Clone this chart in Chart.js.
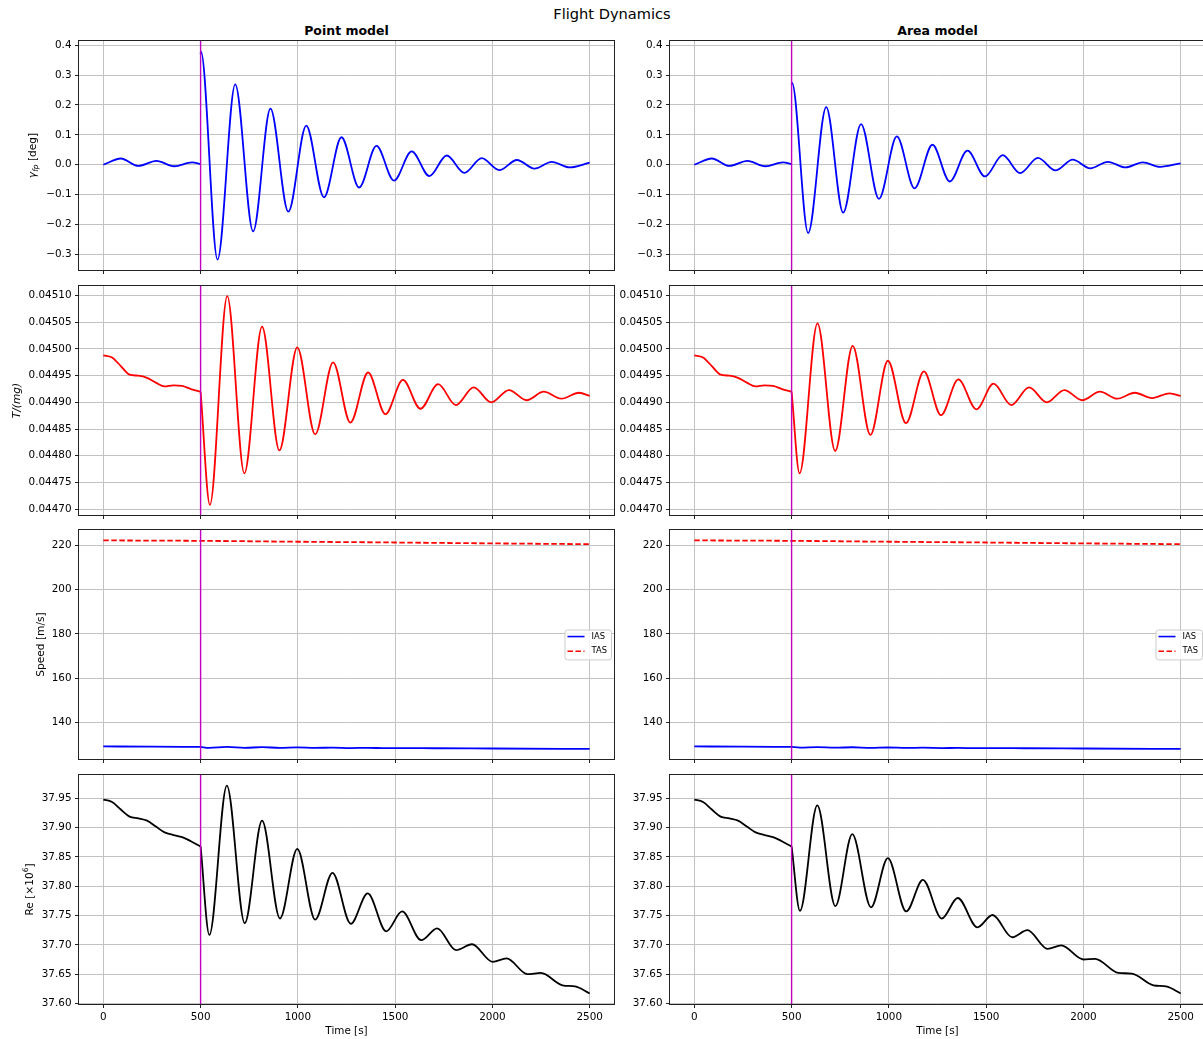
<!DOCTYPE html>
<html>
<head>
<meta charset="utf-8">
<title>Flight Dynamics</title>
<script src="https://cdn.jsdelivr.net/npm/chart.js@4.4.1/dist/chart.umd.min.js"></script>
<style>
  html, body { margin: 0; padding: 0; background: #fff; overflow: hidden; }
  #fig { position: relative; width: 1203px; height: 1039px; overflow: hidden; font-family: 'DejaVu Sans', sans-serif; color: #000; }
  #fig canvas { position: absolute; }
  .suptitle { position: absolute; left: 0; width: 1224px; top: 7px; text-align: center; font-size: 14.6px; line-height: 1; }
  .coltitle { position: absolute; width: 535px; top: 25px; text-align: center; font-size: 12.5px; font-weight: bold; line-height: 1; }
</style>
</head>
<body>
<div id="fig">
  <div class="suptitle">Flight Dynamics</div>
  <div class="coltitle" style="left:79px">Point model</div>
  <div class="coltitle" style="left:670px">Area model</div>
</div>
<script>
// ---- time axis ----
const eventTime = 500;
const timeTicks = [0, 500, 1000, 1500, 2000, 2500];

// ---- flight path angle [deg] ----
const gammaTicks = [-0.3, -0.2, -0.1, 0.0, 0.1, 0.2, 0.3, 0.4];
const gammaTimePre = [0, 90, 180, 273, 365, 456, 500];
const gammaPre = [0, 0.021, -0.004, 0.013, -0.005, 0.008, 0.002];
const gammaTimePoint = [500, 502, 587, 678, 770, 859, 951, 1043, 1134, 1224, 1315, 1404, 1494, 1585, 1676, 1765, 1856, 1945, 2035, 2126, 2216, 2305, 2397, 2500];
const gammaPoint = [0.37, 0.378, -0.317, 0.269, -0.223, 0.188, -0.157, 0.131, -0.109, 0.092, -0.076, 0.063, -0.053, 0.045, -0.038, 0.031, -0.027, 0.022, -0.018, 0.016, -0.013, 0.010, -0.009, 0.007];
const gammaTimeArea = [500, 502, 585, 678, 765, 857, 949, 1041, 1132, 1224, 1313, 1404, 1494, 1585, 1675, 1766, 1856, 1945, 2035, 2126, 2216, 2305, 2394, 2500];
const gammaArea = [0.268, 0.275, -0.228, 0.193, -0.160, 0.136, -0.114, 0.095, -0.079, 0.067, -0.056, 0.047, -0.039, 0.032, -0.028, 0.023, -0.019, 0.017, -0.012, 0.010, -0.009, 0.008, -0.007, 0.005];

// ---- thrust ratio T/(mg) ----
const thrustTicks = [0.04470, 0.04475, 0.04480, 0.04485, 0.04490, 0.04495, 0.04500, 0.04505, 0.04510];
const thrustTimePre = [0, 45, 90, 135, 180, 225, 270, 315, 360, 405, 450, 500];
const thrustPre = [0.044988, 0.044984, 0.044968, 0.044952, 0.044950, 0.044946, 0.044937, 0.044930, 0.044932, 0.044931, 0.044925, 0.044920];
const thrustTimePoint = [500, 548, 637, 725, 816, 905, 997, 1089, 1181, 1270, 1361, 1450, 1540, 1630, 1721, 1812, 1904, 1994, 2085, 2176, 2264, 2355, 2445, 2500];
const thrustPoint = [0.044920, 0.044708, 0.045099, 0.044767, 0.045042, 0.044810, 0.045003, 0.044840, 0.044975, 0.044862, 0.044956, 0.044878, 0.044942, 0.044888, 0.044934, 0.044895, 0.044928, 0.044900, 0.044923, 0.044904, 0.044920, 0.044907, 0.044918, 0.044912];
const thrustTimeArea = [500, 541, 633, 724, 814, 905, 995, 1088, 1180, 1268, 1357, 1450, 1538, 1629, 1721, 1812, 1902, 1994, 2085, 2174, 2264, 2353, 2443, 2500];
const thrustArea = [0.044920, 0.044767, 0.045048, 0.044809, 0.045006, 0.044839, 0.044978, 0.044861, 0.044958, 0.044876, 0.044943, 0.044887, 0.044935, 0.044895, 0.044928, 0.044900, 0.044923, 0.044904, 0.044920, 0.044907, 0.044918, 0.044908, 0.044917, 0.044912];

// ---- airspeeds [m/s] ----
const speedTicks = [140, 160, 180, 200, 220];
const tasTime = [0, 500, 1000, 1500, 2000, 2500];
const tas = [222.3, 222.1, 221.7, 221.35, 220.95, 220.6];
const iasTimePre = [0, 250, 500];
const iasPre = [129.2, 129.05, 128.95];
const iasTimePoint = [500, 545, 635, 727, 816, 908, 997, 1089, 1178, 1272, 1359, 1454, 1536, 1700, 2000, 2500];
const iasPoint = [128.95, 128.55, 128.95, 128.55, 128.85, 128.55, 128.75, 128.5, 128.65, 128.45, 128.55, 128.4, 128.45, 128.35, 128.25, 128.05];
const iasTimeArea = [500, 543, 632, 725, 812, 908, 995, 1089, 1175, 1272, 1354, 1455, 1533, 1700, 2000, 2500];
const iasArea = [128.95, 128.65, 128.9, 128.6, 128.8, 128.55, 128.7, 128.5, 128.6, 128.45, 128.5, 128.4, 128.45, 128.35, 128.25, 128.05];

// ---- Reynolds number [x1e6] ----
const reTicks = [37.60, 37.65, 37.70, 37.75, 37.80, 37.85, 37.90, 37.95];
const reTimePre = [0, 45, 90, 135, 180, 225, 270, 315, 360, 405, 450, 500];
const rePre = [37.948, 37.944, 37.931, 37.919, 37.916, 37.912, 37.902, 37.892, 37.8875, 37.884, 37.877, 37.868];
const reTimePoint = [500, 545, 635, 727, 816, 908, 997, 1089, 1178, 1272, 1359, 1454, 1536, 1634, 1716, 1813, 1895, 2001, 2073, 2180, 2249, 2360, 2425, 2500];
const rePoint = [37.868, 37.717, 37.972, 37.737, 37.912, 37.745, 37.864, 37.743, 37.823, 37.736, 37.788, 37.723, 37.757, 37.708, 37.728, 37.691, 37.701, 37.671, 37.677, 37.650, 37.652, 37.631, 37.629, 37.617];
const reTimeArea = [500, 543, 632, 725, 812, 908, 995, 1089, 1175, 1272, 1354, 1455, 1533, 1634, 1712, 1816, 1886, 2000, 2060, 2180, 2248, 2360, 2425, 2500];
const reArea = [37.868, 37.758, 37.938, 37.766, 37.889, 37.764, 37.848, 37.757, 37.811, 37.745, 37.780, 37.730, 37.751, 37.713, 37.725, 37.693, 37.699, 37.675, 37.676, 37.652, 37.651, 37.631, 37.629, 37.617];

// ---- figure geometry ----
const colLeft = [79, 670];
const rowTop = [41, 286, 530, 775];
const axW = 535, axH = 229;
const mLeft = 79, mTop = 12, mRight = 12, mBottom = 34;
const FONT = "'DejaVu Sans', sans-serif";

Chart.defaults.font.family = FONT;
Chart.defaults.font.size = 10.4;
Chart.defaults.color = '#000';

function pts(ts, vs) {
  return ts.map((t, i) => ({ x: t, y: vs[i] }));
}
// break the line at the event so the kink is kept on both sides
function splitAtEvent(tPre, vPre, tPost, vPost) {
  return pts(tPre, vPre).concat([{ x: eventTime, y: null }], pts(tPost, vPost));
}
function fmt(v, d) {
  const s = Math.abs(v).toFixed(d);
  return v < -1e-12 ? '\u2212' + s : s;
}
function line(data, color, extra) {
  return Object.assign({
    data, borderColor: color, borderWidth: 1.8, pointRadius: 0,
    cubicInterpolationMode: 'monotone', fill: false
  }, extra || {});
}

// frame + event marker
const framePlugin = {
  id: 'frame',
  afterDatasetsDraw(chart) {
    const { ctx, chartArea: a } = chart;
    const x = chart.scales.x.getPixelForValue(eventTime);
    ctx.save();
    ctx.strokeStyle = '#bf00bf';
    ctx.lineWidth = 1.4;
    ctx.beginPath();
    ctx.moveTo(x, a.top);
    ctx.lineTo(x, a.bottom);
    ctx.stroke();
    ctx.strokeStyle = '#222';
    ctx.lineWidth = 1;
    ctx.strokeRect(Math.round(a.left) - 0.5, Math.round(a.top) - 0.5, Math.round(a.right - a.left) + 1, Math.round(a.bottom - a.top) + 1);
    ctx.restore();
  }
};

// rotated y-label made of runs (for sub/superscripts)
function yLabelPlugin(runs, cx) {
  return {
    id: 'ylabel',
    afterDraw(chart) {
      const { ctx, chartArea: a } = chart;
      const cy = (a.top + a.bottom) / 2;
      ctx.save();
      ctx.translate(cx, cy);
      ctx.rotate(-Math.PI / 2);
      ctx.fillStyle = '#000';
      ctx.textBaseline = 'middle';
      ctx.textAlign = 'left';
      let w = 0;
      runs.forEach(r => { ctx.font = r.font; r.w = ctx.measureText(r.text).width; w += r.w; });
      let x = -w / 2;
      runs.forEach(r => { ctx.font = r.font; ctx.fillText(r.text, x, r.dy || 0); x += r.w; });
      ctx.restore();
    }
  };
}

const xTitlePlugin = {
  id: 'xtitle',
  afterDraw(chart) {
    const { ctx, chartArea: a } = chart;
    ctx.save();
    ctx.font = '10.4px ' + FONT;
    ctx.fillStyle = '#000';
    ctx.textAlign = 'center';
    ctx.textBaseline = 'middle';
    ctx.fillText('Time [s]', (a.left + a.right) / 2, a.bottom + 27);
    ctx.restore();
  }
};

// legend box, center right inside the axes
const legendPlugin = {
  id: 'speedLegend',
  afterDraw(chart) {
    const { ctx, chartArea: a } = chart;
    const items = chart.data.datasets.filter(d => d.label);
    ctx.save();
    ctx.font = '8.4px ' + FONT;
    const textW = Math.max(...items.map(d => ctx.measureText(d.label).width));
    const rowH = 14.7;
    const w = 27 + textW + 4;
    const h = rowH * items.length + 0.5;
    const right = a.right - 3;
    const left = right - w;
    const top = (a.top + a.bottom) / 2 - h / 2;
    ctx.beginPath();
    ctx.roundRect(left + 0.5, top + 0.5, w, h, 2.5);
    ctx.fillStyle = 'rgba(255,255,255,0.8)';
    ctx.fill();
    ctx.strokeStyle = '#cccccc';
    ctx.lineWidth = 1;
    ctx.stroke();
    items.forEach((d, i) => {
      const y = top + 7 + i * rowH;
      ctx.strokeStyle = d.borderColor;
      ctx.lineWidth = 1.6;
      ctx.setLineDash(d.borderDash || []);
      ctx.beginPath();
      ctx.moveTo(left + 3, y);
      ctx.lineTo(left + 20, y);
      ctx.stroke();
      ctx.setLineDash([]);
      ctx.fillStyle = '#000';
      ctx.textBaseline = 'middle';
      ctx.fillText(d.label, left + 27, y);
    });
    ctx.restore();
  }
};

const gridStyle = { color: '#c2c2c2', lineWidth: 1, tickColor: '#222', tickLength: 4, tickWidth: 1 };

function panel(col, row, datasets, yTicks, yMin, yMax, dec, extraPlugins) {
  const c = document.createElement('canvas');
  const W = mLeft + axW + mRight, H = mTop + axH + mBottom;
  c.width = W; c.height = H;
  c.style.left = (colLeft[col] - mLeft) + 'px';
  c.style.top = (rowTop[row] - mTop) + 'px';
  c.style.width = W + 'px'; c.style.height = H + 'px';
  document.getElementById('fig').appendChild(c);
  return new Chart(c, {
    type: 'line',
    data: { datasets },
    options: {
      responsive: false, animation: false, events: [], devicePixelRatio: 1,
      layout: { padding: { left: 0, top: mTop, right: mRight, bottom: 0 } },
      scales: {
        x: {
          type: 'linear', min: -125, max: 2625,
          afterBuildTicks: s => { s.ticks = timeTicks.map(v => ({ value: v })); },
          afterFit: s => { s.height = mBottom; },
          ticks: { display: row === 3, padding: 3.5, autoSkip: false, maxRotation: 0, callback: v => String(v) },
          grid: gridStyle, border: { display: false }
        },
        y: {
          type: 'linear', min: yMin, max: yMax,
          afterBuildTicks: s => { s.ticks = yTicks.map(v => ({ value: v })); },
          afterFit: s => { s.width = mLeft; },
          ticks: { padding: 3.5, autoSkip: false, callback: v => fmt(v, dec) },
          grid: gridStyle, border: { display: false }
        }
      },
      plugins: { legend: { display: false }, tooltip: { enabled: false } }
    },
    plugins: [framePlugin].concat(extraPlugins || [])
  });
}

const it = '10.6px ' + FONT;
const itI = 'italic 10.6px ' + FONT;
const labels = [
  yLabelPlugin([{ text: 'γ', font: itI }, { text: 'fp', font: 'italic 7.5px ' + FONT, dy: 2.6 }, { text: ' [deg]', font: it }], 33),
  yLabelPlugin([{ text: 'T/(mg)', font: itI }], 17),
  yLabelPlugin([{ text: 'Speed [m/s]', font: it }], 41),
  yLabelPlugin([{ text: 'Re [×10', font: it }, { text: '6', font: '7.5px ' + FONT, dy: -3.8 }, { text: ']', font: it }], 30)
];

[0, 1].forEach(col => {
  const area = col === 1;
  const lab = i => (col === 0 ? [labels[i]] : []);

  panel(col, 0, [
    line(splitAtEvent(gammaTimePre, gammaPre, area ? gammaTimeArea : gammaTimePoint, area ? gammaArea : gammaPoint), '#0000ff')
  ], gammaTicks, -0.352, 0.414, 1, lab(0));

  panel(col, 1, [
    line(splitAtEvent(thrustTimePre, thrustPre, area ? thrustTimeArea : thrustTimePoint, area ? thrustArea : thrustPoint), '#ff0000')
  ], thrustTicks, 0.044689, 0.045118, 5, lab(1));

  panel(col, 2, [
    line(splitAtEvent(iasTimePre, iasPre, area ? iasTimeArea : iasTimePoint, area ? iasArea : iasPoint), '#0000ff', { label: 'IAS' }),
    line(pts(tasTime, tas), '#ff0000', { label: 'TAS', borderDash: [5.5, 2.5] })
  ], speedTicks, 123.5, 227.0, 0, lab(2).concat([legendPlugin]));

  panel(col, 3, [
    line(splitAtEvent(reTimePre, rePre, area ? reTimeArea : reTimePoint, area ? reArea : rePoint), '#000000')
  ], reTicks, 37.599, 37.990, 2, lab(3).concat([xTitlePlugin]));
});
</script>
</body>
</html>
